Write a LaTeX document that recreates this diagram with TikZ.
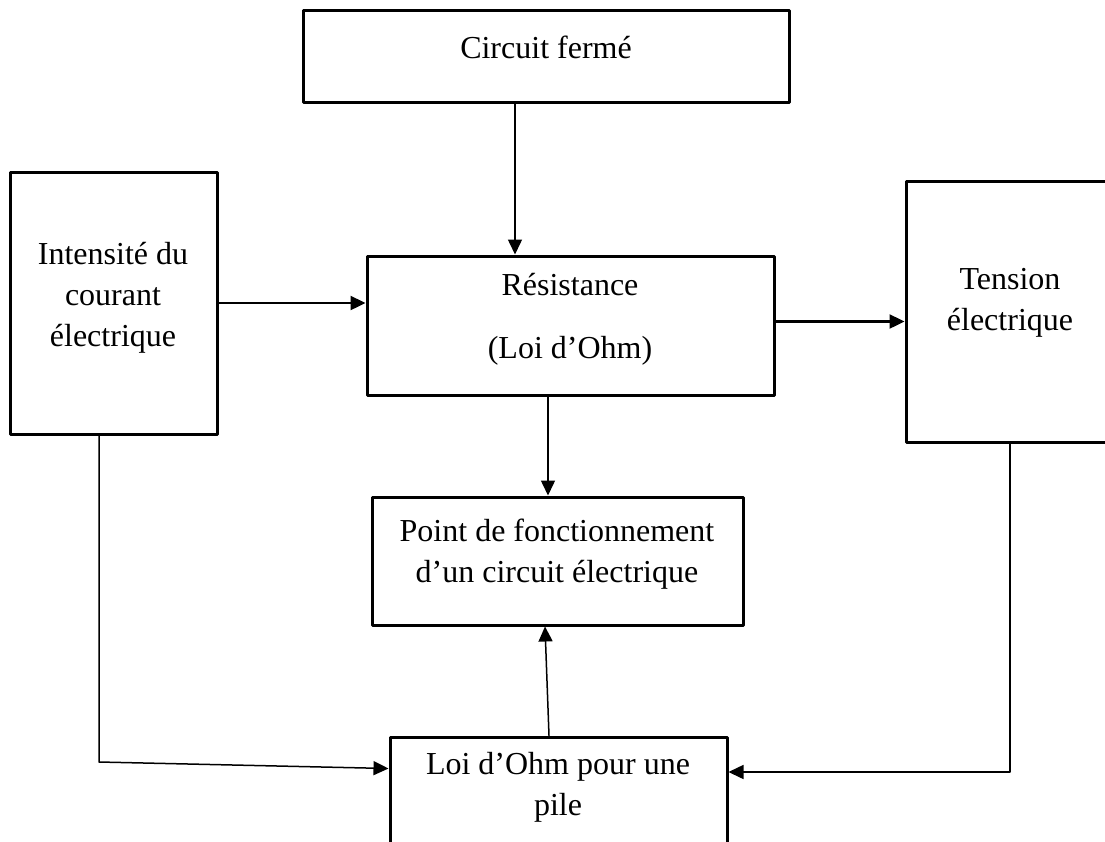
\documentclass[tikz,border=0pt]{standalone}
\usepackage{fontspec}
\setmainfont{Liberation Serif}
\usetikzlibrary{arrows.meta}

\begin{document}
\begin{tikzpicture}[line cap=round,line join=round,>={Triangle[length=7.5pt,width=7pt]},x=0.5pt,y=-0.5pt,
    box/.style={draw,line width=1.5pt,inner sep=0pt,line cap=butt},
    txt/.style={align=center,font=\fontsize{16}{20.5}\selectfont},
    thinarr/.style={line width=0.75pt,->},
    thickarr/.style={line width=1.2pt,->}]
                \useasboundingbox (0,0) rectangle (1105,842);
                \clip (0,0) rectangle (1105,842);
                \node[box,minimum width=243pt,minimum height=46pt] (ferme) at (546,56) {};
                \node[box,minimum width=103.5pt,minimum height=131pt] (intens) at (113.5,303) {};
                \node[box,minimum width=203.5pt,minimum height=69.5pt] (resist) at (570.5,325.5) {};
                \node[box,minimum width=104pt,minimum height=130.5pt] (tension) at (1010,311.5) {};
                \node[box,minimum width=185.5pt,minimum height=64pt] (point) at (557.5,561) {};
                \node[box,minimum width=168.5pt,minimum height=66.5pt] (pile) at (558.5,803.5) {};
                \node[txt] (fermeT) at (546,47) {Circuit fermé};
                \node[txt] (intensT) at (113,298) {Intensité du\\courant\\électrique};
                \node[txt] (resistT) at (570,319) {Résistance\\[11pt](Loi d’Ohm)};
                \node[txt] (tensionT) at (1010,303) {Tension\\électrique};
                \node[txt] (pointT) at (557,554) {Point de fonctionnement\\d’un circuit électrique};
                \node[txt] (pileT) at (558,787) {Loi d’Ohm pour une\\pile};
                \coordinate (lcorner) at (99,762);
                \coordinate (rcorner) at (1010,772);
                \draw[thinarr] ([shift={(-31,0)}]ferme.south) -- ([shift={(-55.5,0)}]resist.north);
                \draw[thickarr] (intens.east) -- (intens.east -| resist.west);
                \draw[thickarr] ([shift={(0,-4)}]resist.east) -- ([shift={(0,-4)}]resist.east -| tension.west);
                \draw[thinarr] ([shift={(-22.5,0)}]resist.south) -- ([shift={(-9.5,0)}]point.north);
                \draw[thinarr] ([shift={(-9.5,0)}]pile.north) -- ([shift={(-12.5,0)}]point.south);
                \draw[thinarr] (intens.south -| lcorner) -- (lcorner) -- ([shift={(0,-35)}]pile.west);
                \draw[thinarr] (tension.south) -- (rcorner) -- ([shift={(0,-31.5)}]pile.east);
\end{tikzpicture}
\end{document}
